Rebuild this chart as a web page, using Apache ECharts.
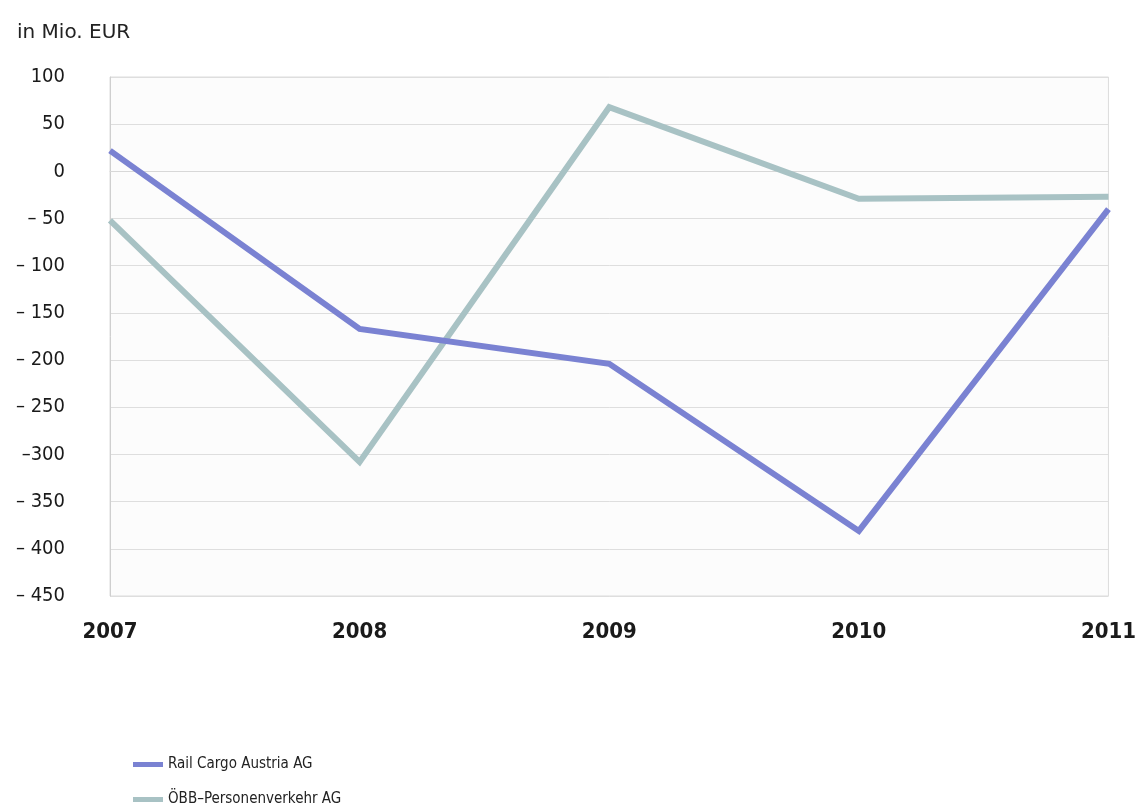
<!DOCTYPE html>
<html>
<head>
<meta charset="utf-8">
<script src="https://cdn.jsdelivr.net/npm/echarts@6/dist/echarts.min.js"></script>
<style>
  html, body { margin: 0; padding: 0; background: #ffffff; }
  #chart { width: 1139px; height: 808px; }
</style>
</head>
<body>
<div id="chart"></div>
<script>
// Years on the category axis
const years = ['2007', '2008', '2009', '2010', '2011'];

// Results in Mio. EUR
const railCargo = [22, -167, -204, -381, -40];
const personenverkehr = [-52, -308, 68, -29, -27];

// Y axis tick texts, keyed by value
const yTickLabels = {
  '100': '100', '50': '50', '0': '0',
  '-50': '– 50', '-100': '– 100', '-150': '– 150', '-200': '– 200',
  '-250': '– 250', '-300': '–300', '-350': '– 350', '-400': '– 400', '-450': '– 450'
};

const seriesNames = ['Rail Cargo Austria AG', 'ÖBB–Personenverkehr AG'];
const colors = ['#7a82d2', '#a8c2c4'];

const chart = echarts.init(document.getElementById('chart'), null, { renderer: 'canvas' });
const fontFamily = '"DejaVu Sans Condensed", "DejaVu Sans", sans-serif';

// One legend block per row, stacked under the plot
function legendRow(name, top) {
  return {
    left: 128,
    top: top,
    itemWidth: 30,
    itemHeight: 5,
    icon: 'rect',
    selectedMode: false,
    textStyle: { fontSize: 15, color: '#222', fontFamily: fontFamily },
    data: [name]
  };
}

chart.setOption({
  animation: false,
  textStyle: { fontFamily: fontFamily },
  title: {
    text: 'in Mio. EUR',
    left: 12,
    top: 18,
    textStyle: { fontSize: 20, fontWeight: 'normal', color: '#222', fontFamily: '"DejaVu Sans", sans-serif' }
  },
  grid: {
    left: 110, right: 30, top: 77, bottom: 212,
    show: true,
    backgroundColor: '#fcfcfc',
    borderColor: '#dcdcdc',
    borderWidth: 1
  },
  legend: [legendRow(seriesNames[0], 752), legendRow(seriesNames[1], 787)],
  xAxis: {
    type: 'category',
    data: years,
    boundaryGap: false,
    axisLine: { show: true, lineStyle: { color: '#d8d8d8' } },
    axisTick: { show: false },
    splitLine: { show: false },
    axisLabel: {
      margin: 25,
      fontSize: 22,
      fontWeight: 'bold',
      color: '#1a1a1a',
      fontFamily: fontFamily,
      alignMinLabel: 'center',
      alignMaxLabel: 'center'
    }
  },
  yAxis: {
    type: 'value',
    min: -450,
    max: 100,
    interval: 50,
    axisLine: { show: true, lineStyle: { color: '#cfcfcf' } },
    axisTick: { show: false },
    splitLine: { show: true, lineStyle: { color: '#dedede', width: 1 } },
    axisLabel: {
      margin: 45,
      fontSize: 20,
      color: '#1a1a1a',
      fontFamily: fontFamily,
      formatter: function (v) { return yTickLabels[String(v)] || String(v); }
    }
  },
  series: [
    {
      name: seriesNames[0],
      type: 'line',
      data: railCargo,
      symbol: 'none',
      color: colors[0],
      lineStyle: { width: 6, color: colors[0], join: 'miter' },
      z: 3
    },
    {
      name: seriesNames[1],
      type: 'line',
      data: personenverkehr,
      symbol: 'none',
      color: colors[1],
      lineStyle: { width: 6, color: colors[1], join: 'miter' },
      z: 2
    }
  ]
});
</script>
</body>
</html>
